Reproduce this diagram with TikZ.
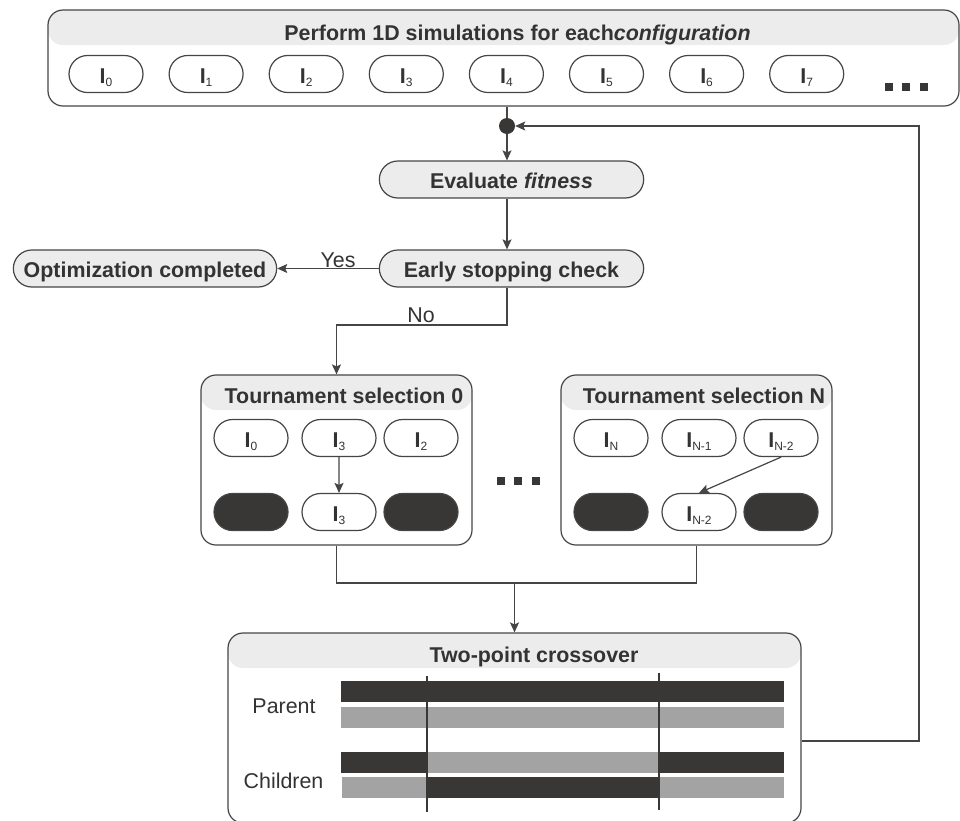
\documentclass[tikz,border=0pt]{standalone}
\usepackage{fontspec}
\setmainfont{Liberation Sans}
\usetikzlibrary{shapes.misc,arrows.meta}
\definecolor{ink}{HTML}{333333}
\definecolor{edge}{HTML}{454545}
\definecolor{band}{HTML}{ECECEC}
\definecolor{darkbar}{HTML}{383736}
\definecolor{lightbar}{HTML}{A3A3A3}
\newcommand{\bodyfont}{\fontsize{21.4}{24}\selectfont}
\newcommand{\indiv}[1]{\textbf{I}\raisebox{-3pt}{\fontsize{12}{12}\selectfont #1}}

\begin{document}
\begin{tikzpicture}[x=1pt, y=-1pt,
	conn/.style={draw=edge, line width=1.2pt},
	arr/.style={conn, -{Stealth[length=10pt, width=9pt, inset=2pt]}},
	panel/.style={rectangle, draw=edge, line width=1.2pt, rounded corners=15pt, inner sep=0pt,
		path picture={\fill[band] (path picture bounding box.north west) rectangle ([yshift=-35pt]path picture bounding box.north east);}},
	pill/.style={rounded rectangle, draw=edge, line width=1.2pt, fill=band, minimum width=271pt, minimum height=37pt,
		font=\bodyfont\bfseries, text=ink, text height=18pt, text depth=0pt},
	ind/.style={rounded rectangle, draw=edge, line width=1.2pt, fill=white, minimum width=74pt, minimum height=37pt,
		inner sep=0pt, font=\bodyfont, text=ink, text height=19pt, text depth=0pt},
	blank/.style={ind, fill=darkbar},
	title/.style={font=\bodyfont\bfseries, text=ink, anchor=base, inner sep=0pt},
	lbl/.style={font=\bodyfont, text=ink, anchor=base, inner sep=0pt},
	jdot/.style={circle, fill=darkbar, minimum size=16pt, inner sep=0pt},
	sqdot/.style={rectangle, fill=darkbar, minimum size=8pt, inner sep=0pt},
	cut/.style={draw=darkbar, line width=1.2pt}]
	\useasboundingbox (0,0) rectangle (960,820);

	% simulations
	\node[panel, minimum width=911pt, minimum height=96pt] (top) at (503.5,58) {};
	\node[title] (toptitle) at (517.5,40) {Perform 1D simulations for each\textit{configuration}};
	\foreach \i in {0,...,7}
		\node[ind] (p\i) at ({106+100.1*\i},74) {\indiv{\i}};
	\foreach \x/\n in {889/1,906/2,924/3}
		\node[sqdot] (tdot\n) at (\x,87) {};

	% loop
	\node[jdot] (dot) at (507,126) {};
	\node[pill] (eval) at (511.5,179.5) {Evaluate \textit{fitness}};
	\node[pill] (early) at (511.5,268.5) {Early stopping check};
	\node[pill, minimum width=270pt] (optim) at (145,268.5) {Optimization completed};
	\node[lbl] (yes) at (338,267) {Yes};
	\node[lbl] (no) at (421,322) {No};
	\coordinate (nobend) at (507,325);
	\coordinate (loop) at (919,126);

	% tournaments
	\node[panel, minimum width=271pt, minimum height=170pt] (ts0) at (336.5,460) {};
	\node[title] (ts0title) at (344,403) {Tournament selection 0};
	\node[ind] (a0) at (251,438) {\indiv{0}};
	\node[ind] (a1) at (339,438) {\indiv{3}};
	\node[ind] (a2) at (421,438) {\indiv{2}};
	\node[blank] (b0) at (251,512) {};
	\node[ind] (b1) at (339,512) {\indiv{3}};
	\node[blank] (b2) at (421,512) {};

	\node[panel, minimum width=271pt, minimum height=170pt] (tsN) at (696.5,460) {};
	\node[title] (tsNtitle) at (704,403) {Tournament selection N};
	\node[ind] (c0) at (611,438) {\indiv{N}};
	\node[ind] (c1) at (699,438) {\indiv{N-1}};
	\node[ind] (c2) at (781,438) {\indiv{N-2}};
	\node[blank] (d0) at (611,512) {};
	\node[ind] (d1) at (699,512) {\indiv{N-2}};
	\node[blank] (d2) at (781,512) {};
	\foreach \x/\n in {501/1,518/2,536/3}
		\node[sqdot] (mdot\n) at (\x,481) {};
	\coordinate (merge) at (514.5,583);

	% crossover
	\node[panel, minimum width=573pt, minimum height=190pt] (cross) at (514.5,728) {};
	\node[title] (crosstitle) at (534,662) {Two-point crossover};
	\node[lbl] (parent) at (284,713) {Parent};
	\node[lbl] (children) at (283.5,788) {Children};
	\fill[darkbar] (341,681) rectangle (784,702);
	\fill[lightbar] (341,707) rectangle (784,728);
	\fill[darkbar] (341,752) rectangle (427,773);
	\fill[lightbar] (427,752) rectangle (659,773);
	\fill[darkbar] (659,752) rectangle (784,773);
	\fill[lightbar] (342,777) rectangle (427,798);
	\fill[darkbar] (427,777) rectangle (659,798);
	\fill[lightbar] (659,777) rectangle (784,798);
	\draw[cut] (427,676) -- (427,812);
	\draw[cut] (659,673) -- (659,810);

	\draw[conn] (dot |- top.south) -- (dot);
	\draw[arr] (dot) -- (dot |- eval.north);
	\draw[arr] (dot |- eval.south) -- (dot |- early.north);
	\draw[arr] (early.west) -- (optim.east);
	\draw[arr] (dot |- early.south) -- (nobend) -| (ts0.north);
	\draw[arr] (a1) -- (b1);
	\draw[arr] (c2.south) -- (d1.north);
	\draw[conn] (ts0.south) |- (merge) -| (tsN.south);
	\draw[arr] (merge) -- (cross.north);
	\draw[arr] ([yshift=-13pt]cross.east) -| (loop) -- (dot);
\end{tikzpicture}
\end{document}
